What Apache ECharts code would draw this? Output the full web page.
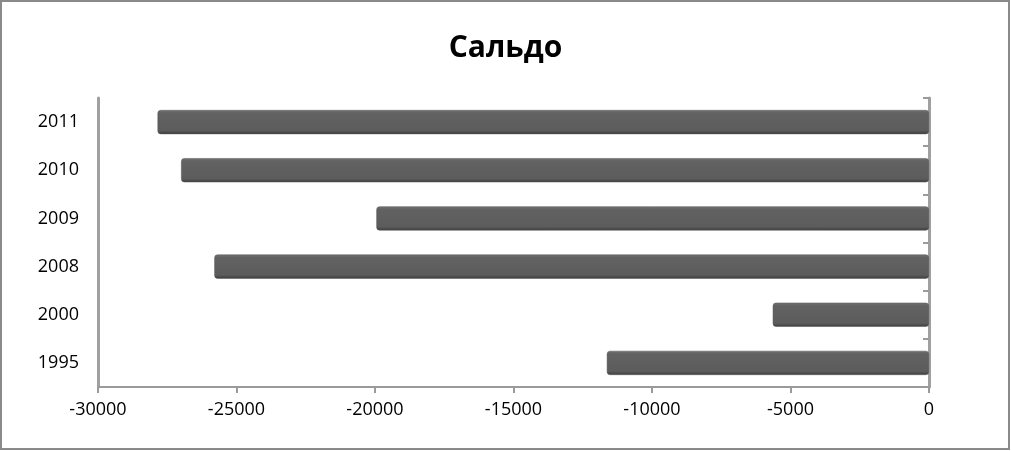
<!DOCTYPE html>
<html><head><meta charset="utf-8">
<script src="https://cdn.jsdelivr.net/npm/echarts@6/dist/echarts.min.js"></script>
<style>html,body{margin:0;padding:0;background:#fff}#c{width:1011px;height:451px}</style>
</head><body><div id="c"></div>
<script>
const title = 'Сальдо';
const years = ['1995', '2000', '2008', '2009', '2010', '2011'];
const saldo = [-11630, -5640, -25800, -19950, -27000, -27850];
const xTicks = { min: -30000, max: 0, interval: 5000 };

const chart = echarts.init(document.getElementById('c'));
const font = '"Open Sans", "DejaVu Sans", sans-serif';
chart.setOption({
  backgroundColor: '#fff',
  animation: false,
  title: { text: title, left: 'center', top: 28, textStyle: { fontFamily: font, fontSize: 30, fontWeight: 'bold', color: '#000' } },
  grid: { left: 98, right: 82, top: 98, bottom: 64 },
  xAxis: {
    type: 'value', min: xTicks.min, max: xTicks.max, interval: xTicks.interval,
    splitLine: { show: false },
    axisLine: { show: true, lineStyle: { color: '#9a9a9a', width: 2 } },
    axisTick: { show: true, length: 6, lineStyle: { color: '#9a9a9a', width: 2 } },
    axisLabel: { fontFamily: font, fontSize: 18, color: '#000', margin: 14, formatter: v => String(v) }
  },
  yAxis: [{
    type: 'category', data: years, position: 'left',
    axisLine: { show: true, onZero: false, lineStyle: { color: '#a0a0a0', width: 3 } },
    axisTick: { show: false },
    axisLabel: { fontFamily: font, fontSize: 18, color: '#000', margin: 19 }
  }, {
    type: 'category', data: years, position: 'right',
    axisLine: { show: true, onZero: false, lineStyle: { color: '#a0a0a0', width: 3 } },
    axisTick: { show: true, inside: true, length: 6, lineStyle: { color: '#9a9a9a', width: 2 } },
    axisLabel: { show: false }
  }],
  series: [{
    type: 'bar', data: saldo, barCategoryGap: '50%', yAxisIndex: 0,
    itemStyle: {
      borderRadius: 3,
      color: new echarts.graphic.LinearGradient(0, 0, 0, 1, [
        { offset: 0, color: '#737373' }, { offset: 0.12, color: '#626262' },
        { offset: 0.85, color: '#5c5c5c' }, { offset: 1, color: '#3c3c3c' }
      ]),
      borderColor: '#555', borderWidth: 0.5
    }
  }],
  graphic: [{
    type: 'rect', shape: { x: 1, y: 1, width: 1008, height: 448 },
    style: { fill: 'none', stroke: '#8a8a8a', lineWidth: 2 }, silent: true
  }]
});
</script></body></html>
